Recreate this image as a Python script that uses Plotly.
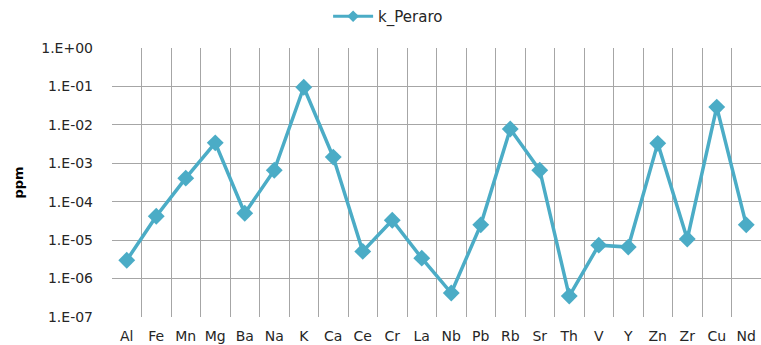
import plotly.graph_objects as go

elements = ["Al", "Fe", "Mn", "Mg", "Ba", "Na", "K", "Ca", "Ce", "Cr", "La",
            "Nb", "Pb", "Rb", "Sr", "Th", "V", "Y", "Zn", "Zr", "Cu", "Nd"]
k_peraro = [3.0e-6, 4.2e-5, 4.1e-4, 3.4e-3, 5.0e-5, 6.6e-4, 9.5e-2, 1.45e-3,
            5.1e-6, 3.3e-5, 3.4e-6, 4.2e-7, 2.5e-5, 7.8e-3, 6.6e-4, 3.5e-7,
            7.4e-6, 6.6e-6, 3.3e-3, 1.07e-5, 2.9e-2, 2.5e-5]
y_tickvals = [1e-7, 1e-6, 1e-5, 1e-4, 1e-3, 1e-2, 1e-1, 1e0]
y_ticktext = ["1.E-07", "1.E-06", "1.E-05", "1.E-04", "1.E-03", "1.E-02", "1.E-01", "1.E+00"]

LINE = "#4BACC6"
GRID = "#A6A6A6"
FONT = "DejaVu Sans, sans-serif"

fig = go.Figure()
fig.add_trace(go.Scatter(
    x=elements, y=k_peraro, mode="lines+markers", name="k_Peraro",
    line=dict(color=LINE, width=3.5),
    marker=dict(symbol="diamond", size=13, color=LINE),
    showlegend=False,
))
# legend entry with a smaller diamond
fig.add_trace(go.Scatter(
    x=[None], y=[None], mode="lines+markers", name="k_Peraro",
    line=dict(color=LINE, width=3),
    marker=dict(symbol="diamond", size=9, color=LINE),
))

fig.update_layout(
    width=761, height=345,
    margin=dict(l=112, r=0, t=48, b=28),
    paper_bgcolor="white", plot_bgcolor="white",
    font=dict(family=FONT, size=14, color="#262626"),
    showlegend=True,
    legend=dict(orientation="h", x=0.51, xanchor="center", xref="container",
                y=1.0, yanchor="top", yref="container",
                font=dict(size=15, color="#262626"), itemwidth=40),
    xaxis=dict(type="category", tickson="boundaries", range=[-0.5, 21.5],
               showgrid=True, gridcolor=GRID, gridwidth=1,
               showline=False, zeroline=False, ticks="", ticklabelstandoff=9,
               tickfont=dict(size=14)),
    yaxis=dict(type="log", range=[-7, 0], tickvals=y_tickvals, ticktext=y_ticktext,
               showgrid=True, gridcolor=GRID, gridwidth=1, showline=False,
               zeroline=False, ticks="", ticklabelstandoff=18,
               tickfont=dict(size=14)),
    annotations=[dict(text="<b>ppm</b>", textangle=-90, xref="paper", yref="paper",
                      x=(18 - 112) / 649, y=0.5, xanchor="center", yanchor="middle",
                      showarrow=False, font=dict(size=13, color="#000000"))],
)

fig.write_html("out.html")
